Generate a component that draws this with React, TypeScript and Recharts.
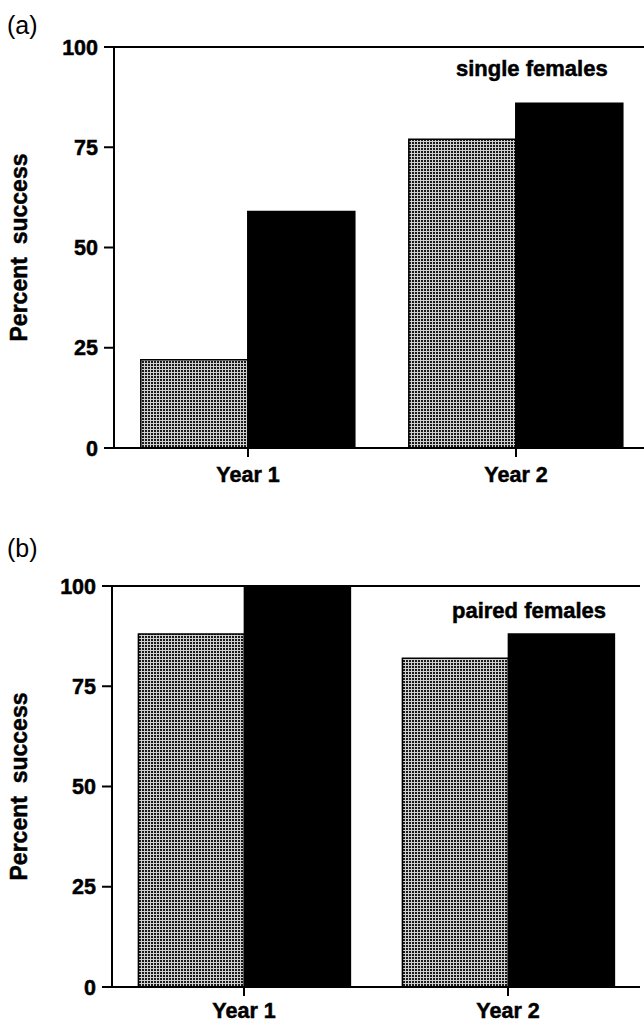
import React from 'react';
import { BarChart, Bar, XAxis, YAxis, ReferenceLine } from 'recharts';

const categories = ['Year 1', 'Year 2'];
const singleStippled = [22, 77];
const singleBlack = [59, 86];
const pairedStippled = [88, 82];
const pairedBlack = [100, 88];
const yTicks = [0, 25, 50, 75, 100];

const singleData = categories.map((c, i) => ({ cat: c, stippled: singleStippled[i], black: singleBlack[i] }));
const pairedData = categories.map((c, i) => ({ cat: c, stippled: pairedStippled[i], black: pairedBlack[i] }));

const FONT = '"Liberation Sans", Arial, Helvetica, sans-serif';
const tickStyle = { fontFamily: FONT, fontSize: 21.5, fontWeight: 700, fill: '#000', stroke: '#000', strokeWidth: 0.5 };

const YLabel = (props: any) => {
  const vb = props.viewBox || {};
  const cy = (vb.y || 0) + (vb.height || 0) / 2;
  const cx = 19;
  return (
    <text
      x={cx}
      y={cy}
      transform={`rotate(-90, ${cx}, ${cy})`}
      textAnchor="middle"
      dominantBaseline="central"
      style={{ fontFamily: FONT, fontSize: 23, fontWeight: 700, fill: '#000', stroke: '#000', strokeWidth: 0.5 }}
    >
      {'Percent\u00a0\u00a0success'}
    </text>
  );
};

const Defs = ({ id }: { id: string }) => (
  <defs>
    <pattern id={id} x={0} y={0} width={3} height={3} patternUnits="userSpaceOnUse">
      <rect x={0} y={0} width={3} height={3} fill="#1a1a1a" />
      <rect x={0} y={0} width={3} height={1} fill="#cfcfcf" />
      <rect x={0} y={0} width={1} height={3} fill="#cfcfcf" />
    </pattern>
  </defs>
);

function Panel({ data, pid, width, rightBorder, xMargin }: { data: any[]; pid: string; width: number; rightBorder: boolean; xMargin: number }) {
  return (
    <BarChart
      width={width}
      height={500}
      data={data}
      margin={{ top: 47, right: rightBorder ? 4 : 30, left: 0, bottom: 12 }}
      barCategoryGap="10%"
      barGap={0}
    >
      <Defs id={pid} />
      <XAxis
        dataKey="cat"
        height={40}
        tickSize={9}
        tickMargin={xMargin}
        tick={tickStyle}
        axisLine={{ stroke: '#000', strokeWidth: 2 }}
        tickLine={{ stroke: '#000', strokeWidth: 2 }}
      />
      <YAxis
        yAxisId="l"
        width={pid === 'pa' ? 114 : 112}
        domain={[0, 100]}
        ticks={yTicks}
        interval={0}
        tickSize={10}
        tickMargin={6}
        tick={tickStyle}
        axisLine={{ stroke: '#000', strokeWidth: 2 }}
        tickLine={{ stroke: '#000', strokeWidth: 2 }}
        label={<YLabel />}
      />
      {rightBorder && (
        <YAxis
          yAxisId="r"
          orientation="right"
          width={0}
          domain={[0, 100]}
          tick={false}
          tickLine={false}
          axisLine={{ stroke: '#000', strokeWidth: 2 }}
        />
      )}
      <ReferenceLine yAxisId="l" y={100} stroke="#000" strokeWidth={2} />
      <Bar yAxisId="l" dataKey="stippled" fill={`url(#${pid})`} stroke="#000" strokeWidth={1.5} isAnimationActive={false} />
      <Bar yAxisId="l" dataKey="black" fill="#000" stroke="#000" strokeWidth={1.5} isAnimationActive={false} />
    </BarChart>
  );
}

const textStyle: React.CSSProperties = {
  position: 'absolute',
  fontFamily: FONT,
  color: '#000',
  whiteSpace: 'nowrap',
  lineHeight: 1,
};

const boldText: React.CSSProperties = {
  ...textStyle,
  fontSize: 22,
  fontWeight: 700,
  WebkitTextStroke: '0.5px #000',
};

export default function App() {
  return (
    <div style={{ position: 'absolute', left: 0, top: 0, width: 644, height: 1024, overflow: 'hidden', background: '#fff' }}>
      <div style={{ position: 'absolute', left: 0, top: 0 }}>
        <Panel data={singleData} pid="pa" width={680} rightBorder={false} xMargin={10} />
      </div>
      <div style={{ position: 'absolute', left: 0, top: 539 }}>
        <Panel data={pairedData} pid="pb" width={644} rightBorder={true} xMargin={7} />
      </div>
      <div style={{ ...textStyle, left: 7, top: 13, fontSize: 25 }}>(a)</div>
      <div style={{ ...textStyle, left: 7, top: 536, fontSize: 25 }}>(b)</div>
      <div style={{ ...boldText, left: 456, top: 58 }}>single females</div>
      <div style={{ ...boldText, left: 452, top: 600 }}>paired females</div>
    </div>
  );
}
